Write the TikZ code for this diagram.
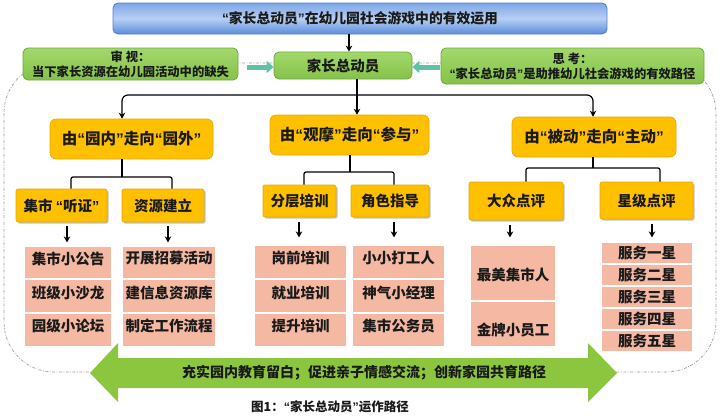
\documentclass[tikz,border=0pt]{standalone}
\usepackage{fontspec}
\setmainfont{Noto Sans CJK SC}
\newfontfamily\qfont{Liberation Sans}
\newcommand\qo{{\qfont\bfseries “}}
\newcommand\qc{{\qfont\bfseries ”}}
\usetikzlibrary{arrows.meta,shadows,calc}
\definecolor{txt}{HTML}{1A1A1A}
\definecolor{blueT}{HTML}{7EA6E6}
\definecolor{blueM}{HTML}{B7CFF3}
\definecolor{blueBt}{HTML}{5C8CDA}
\definecolor{blueD}{HTML}{4D7FCF}
\definecolor{grT}{HTML}{A3D86B}
\definecolor{grB}{HTML}{85C24A}
\definecolor{grD}{HTML}{6DA83E}
\definecolor{gold}{HTML}{FFC000}
\definecolor{goldD}{HTML}{E3A700}
\definecolor{pinkf}{HTML}{F5B9A3}
\definecolor{tealc}{HTML}{5CC4A4}
\definecolor{bigg}{HTML}{8CC63F}
\definecolor{dashg}{HTML}{A0A0A0}
\tikzset{
  box/.style={inner sep=0pt, text=txt, align=center, font=\bfseries\fontsize{14.5}{16}\selectfont},
  titlebox/.style={box, rounded corners=5pt, draw=blueD, line width=0.8pt,
    top color=blueT, bottom color=blueBt, middle color=blueM, font=\bfseries\fontsize{13.8}{16}\selectfont},
  greenbox/.style={box, rounded corners=5pt, draw=grD, line width=0.8pt,
    top color=grT, bottom color=grB, font=\bfseries\fontsize{12.3}{15}\selectfont},
  orangebox/.style={box, rounded corners=6pt, fill=gold, draw=goldD, line width=0.6pt,
    font=\bfseries\fontsize{15.5}{17}\selectfont},
  subbox/.style={box, rounded corners=2pt, fill=gold, draw=goldD, line width=0.6pt,
    drop shadow={shadow xshift=1.5pt, shadow yshift=-1.5pt, fill=black!40, opacity=0.6}},
  pinkrow/.style={box, fill=pinkf, draw=white, line width=1.2pt},
  ptxt/.style={inner sep=0pt, text=txt, font=\bfseries\fontsize{14.5}{16}\selectfont},
  conn/.style={draw=black, line width=1.2pt},
  arr/.style={conn, -{Stealth[length=6pt,width=6.5pt]}},
  tealarr/.style={draw=tealc, line width=5pt, -{Triangle[length=7pt,width=12pt]}},
  border/.style={draw=dashg, line width=0.7pt, dash pattern=on 3pt off 1.5pt on 0.8pt off 1.5pt},
}
\begin{document}
\begin{tikzpicture}[x=1pt,y=-1pt]
\useasboundingbox (0,0) rectangle (722,415);
% dashed frame
\draw[border, rounded corners=50pt] (4,63) rectangle (716,372);
% big double arrow
\fill[bigg] (90,373) -- (118,343) -- (118,358) -- (588,358) -- (588,343) -- (617,373)
  -- (588,402) -- (588,388) -- (118,388) -- (118,402) -- cycle;
\node[ptxt, font=\bfseries\fontsize{14}{16}\selectfont] (ban) at (364,373) {充实园内教育留白；促进亲子情感交流；创新家园共育路径};
% top
\node[titlebox, minimum width=494pt, minimum height=31pt] (title) at (360,18.5) {\qo 家长总动员\qc 在幼儿园社会游戏中的有效运用};
\node[greenbox, minimum width=138pt, minimum height=27pt, font=\bfseries\fontsize{14.5}{16}\selectfont] (c) at (343,65.5) {家长总动员};
\node[greenbox, minimum width=215pt, minimum height=32pt] (L) at (130.5,64) {审 视：\\当下家长资源在幼儿园活动中的缺失};
\node[greenbox, minimum width=263pt, minimum height=36pt] (R) at (572.5,66) {思 考：\\\qo 家长总动员\qc 是助推幼儿社会游戏的有效路径};
\coordinate (t1) at (247,67);
\coordinate (t2) at (440,67);
\draw[tealarr] (t1) -- (t1 -| c.west);
\draw[tealarr] (t2) -- (t2 -| c.east);
% level 2
\node[orangebox, minimum width=163pt, minimum height=40pt] (A) at (131.5,139) {由\qo 园内\qc 走向\qo 园外\qc};
\node[orangebox, minimum width=159pt, minimum height=40pt] (B) at (349.5,135) {由\qo 观摩\qc 走向\qo 参与\qc};
\node[orangebox, minimum width=164pt, minimum height=40pt] (C) at (594,137) {由\qo 被动\qc 走向\qo 主动\qc};
\coordinate (ar1) at (349,0);
\coordinate (hs) at (357,95);
\coordinate (xa) at (122,95);
\coordinate (xc) at (593,95);
\draw[arr] (title.south -| ar1) -- (c.north -| ar1);
\draw[conn] (c.south -| hs) -- (hs);
\draw[arr, rounded corners=6pt] (hs) -- (xa) -- (A.north -| xa);
\draw[arr, rounded corners=6pt] (hs) -- (xc) -- (C.north -| xc);
\draw[arr] (hs) -- (B.north -| hs);
% level 3
\node[subbox, minimum width=91pt, minimum height=33pt] (A1) at (61.5,205.5) {集市 \qo 听证\qc};
\node[subbox, minimum width=82pt, minimum height=33pt] (A2) at (163,205.5) {资源建立};
\node[subbox, minimum width=73pt, minimum height=32pt] (B1) at (299.5,201) {分层培训};
\node[subbox, minimum width=78pt, minimum height=32pt] (B2) at (390,201) {角色指导};
\node[subbox, minimum width=94pt, minimum height=38pt] (C1) at (516,201) {大众点评};
\node[subbox, minimum width=93pt, minimum height=37pt] (C2) at (646.5,200.5) {星级点评};
% brackets
\coordinate (ma) at (122,177); \coordinate (la) at (71,177); \coordinate (ra) at (172,177);
\coordinate (mb) at (350,172); \coordinate (lb) at (304,172); \coordinate (rb) at (394,172);
\coordinate (mc) at (593,168); \coordinate (lc) at (526,168); \coordinate (rc) at (660,168);
\draw[conn] (A.south -| ma) -- (ma);
\draw[conn, rounded corners=2pt] (A1.north -| la) -- (la) -- (ra) -- (A2.north -| ra);
\draw[conn] (B.south -| mb) -- (mb);
\draw[conn, rounded corners=2pt] (B1.north -| lb) -- (lb) -- (rb) -- (B2.north -| rb);
\draw[conn] (C.south -| mc) -- (mc);
\draw[conn, rounded corners=2pt] (C1.north -| lc) -- (lc) -- (rc) -- (C2.north -| rc);
% pink columns
\node[pinkrow, minimum width=88pt, minimum height=33pt, label={[ptxt,yshift=4pt]center:集市小公告}] (P11) at (68,262.5) {};
\node[pinkrow, minimum width=88pt, minimum height=34pt, label={[ptxt,yshift=3.5pt]center:班级小沙龙}] (P12) at (68,296) {};
\node[pinkrow, minimum width=88pt, minimum height=34pt, label={[ptxt,yshift=4pt]center:园级小论坛}] (P13) at (68,330) {};
\node[pinkrow, minimum width=94pt, minimum height=33pt, label={[ptxt,yshift=4pt]center:开展招募活动}] (P21) at (169,262.5) {};
\node[pinkrow, minimum width=94pt, minimum height=34pt, label={[ptxt,yshift=3.5pt]center:建信息资源库}] (P22) at (169,296) {};
\node[pinkrow, minimum width=94pt, minimum height=34pt, label={[ptxt,yshift=4pt]center:制定工作流程}] (P23) at (169,330) {};
\node[pinkrow, minimum width=93pt, minimum height=34pt, label={[ptxt,yshift=4pt]center:岗前培训}] (P31) at (300.5,262) {};
\node[pinkrow, minimum width=93pt, minimum height=34pt, label={[ptxt,yshift=3.5pt]center:就业培训}] (P32) at (300.5,296) {};
\node[pinkrow, minimum width=93pt, minimum height=34pt, label={[ptxt,yshift=4pt]center:提升培训}] (P33) at (300.5,330) {};
\node[pinkrow, minimum width=93pt, minimum height=34pt, label={[ptxt,yshift=4pt]center:小小打工人}] (P41) at (398.5,262) {};
\node[pinkrow, minimum width=93pt, minimum height=34pt, label={[ptxt,yshift=3.5pt]center:神气小经理}] (P42) at (398.5,296) {};
\node[pinkrow, minimum width=93pt, minimum height=34pt, label={[ptxt,yshift=4pt]center:集市公务员}] (P43) at (398.5,330) {};
\node[pinkrow, minimum width=86pt, minimum height=56pt, label={[ptxt,yshift=-2pt]center:最美集市人}] (P51) at (513,273) {};
\node[pinkrow, minimum width=86pt, minimum height=46pt, label={[ptxt,yshift=-6pt]center:金牌小员工}] (P52) at (513,324) {};
\node[pinkrow, minimum width=92pt, minimum height=22pt, label={[ptxt]center:服务一星}] (P61) at (647,253) {};
\node[pinkrow, minimum width=92pt, minimum height=22pt, label={[ptxt]center:服务二星}] (P62) at (647,275) {};
\node[pinkrow, minimum width=92pt, minimum height=22pt, label={[ptxt]center:服务三星}] (P63) at (647,297) {};
\node[pinkrow, minimum width=92pt, minimum height=22pt, label={[ptxt]center:服务四星}] (P64) at (647,319) {};
\node[pinkrow, minimum width=92pt, minimum height=22pt, label={[ptxt]center:服务五星}] (P65) at (647,341) {};
% arrows to pink
\coordinate (q1) at (67,0); \coordinate (q2) at (168,0); \coordinate (q3) at (299,0);
\coordinate (q4) at (394,0); \coordinate (q5) at (510,0); \coordinate (q6) at (652,0);
\draw[arr, shorten <=4pt, shorten >=3pt] (A1.south -| q1) -- (P11.north -| q1);
\draw[arr, shorten <=4pt, shorten >=3pt] (A2.south -| q2) -- (P21.north -| q2);
\draw[arr, shorten <=5pt, shorten >=7pt] (B1.south -| q3) -- (P31.north -| q3);
\draw[arr, shorten <=5pt, shorten >=7pt] (B2.south -| q4) -- (P41.north -| q4);
\draw[arr, shorten <=5pt, shorten >=7pt] (C1.south -| q5) -- (P51.north -| q5);
\draw[arr, shorten <=5pt, shorten >=4pt] (C2.south -| q6) -- (P61.north -| q6);
% caption
\node[inner sep=0pt, text=txt, font=\bfseries\fontsize{12.5}{14}\selectfont] (cap) at (330,407) {图1：\qo 家长总动员\qc 运作路径};
\end{tikzpicture}
\end{document}
